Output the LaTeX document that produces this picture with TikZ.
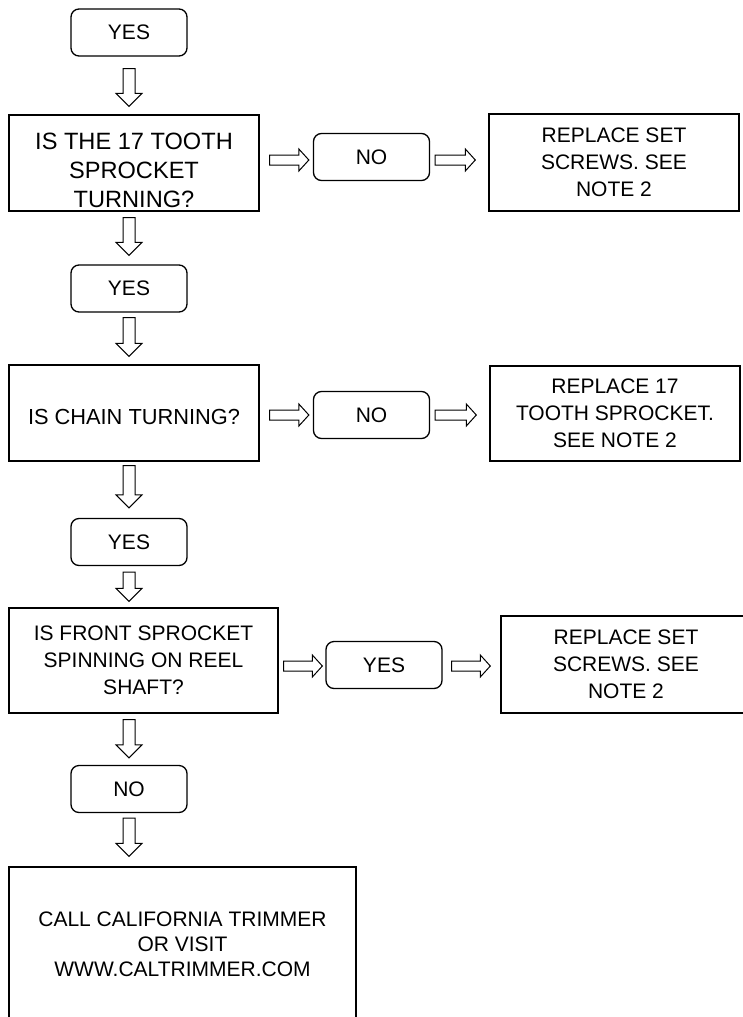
\documentclass[tikz,border=0pt]{standalone}
\usepackage{fontspec}
\setmainfont{Liberation Sans}
\usetikzlibrary{calc}
\begin{document}
\begin{tikzpicture}[x=1pt,y=-1pt,
  box/.style={draw, line width=1.4pt, align=center, inner sep=0pt,
    font=\fontsize{21}{27}\selectfont, minimum width=250pt, minimum height=96pt},
  pill/.style={draw, line width=1.3pt, rounded corners=8pt, minimum width=116pt,
    minimum height=47pt, inner sep=0pt, font=\fontsize{21}{25}\selectfont},
  darrow/.style={draw, line width=1pt, to path={let \p1=(\tikztostart), \p2=(\tikztotarget) in
    (\x1-6pt,\y1) -- (\x1+6pt,\y1) -- (\x1+6pt,\y2+13pt) -- (\x1+13pt,\y2+13pt) -- (\x1,\y2)
    -- (\x1-13pt,\y2+13pt) -- (\x1-6pt,\y2+13pt) -- cycle}},
  rarrow/.style={draw, line width=1pt, to path={let \p1=(\tikztostart), \p2=(\tikztotarget) in
    (\x1,\y1+5pt) -- (\x1,\y1-5pt) -- (\x2-10pt,\y1-5pt) -- (\x2-10pt,\y1-11pt) -- (\x2,\y1)
    -- (\x2-10pt,\y1+11pt) -- (\x2-10pt,\y1+5pt) -- cycle}}]
\useasboundingbox (0,0) rectangle (743,1017);
\clip (0,0) rectangle (743,1017);

\node[pill] (yes1) at (129,32.5) {YES};
\node[box, font=\fontsize{23.6}{29}\selectfont] (q1) at (134,163) {\rule{0pt}{31pt}IS THE 17 TOOTH\\SPROCKET\\TURNING?};
\node[pill] (no1) at (371.5,157) {NO};
\node[box, minimum height=97pt] (r1) at (614,162.5) {REPLACE SET\\SCREWS. SEE\\NOTE 2};

\node[pill] (yes2) at (129,288.5) {YES};
\node[box, text height=23pt, font=\fontsize{21.8}{27}\selectfont] (q2) at (134,413) {IS CHAIN TURNING?};
\node[pill] (no2) at (371.5,415) {NO};
\node[box, minimum height=95pt] (r2) at (615,413.5) {REPLACE 17\\TOOTH SPROCKET.\\SEE NOTE 2};

\node[pill] (yes3) at (129,542) {YES};
\node[box, minimum width=269pt, minimum height=105pt] (q3) at (143.5,660.5) {IS FRONT SPROCKET\\SPINNING ON REEL\\SHAFT?};
\node[pill] (yes4) at (384,665) {YES};
\node[box, minimum height=97pt] (r3) at (626,664.5) {REPLACE SET\\SCREWS. SEE\\NOTE 2};

\node[pill] (no3) at (129,789) {NO};
\node[box, minimum width=347pt, minimum height=154pt, font=\fontsize{21}{25}\selectfont] (q4) at (182.5,944) {CALL CALIFORNIA TRIMMER\\OR VISIT\\WWW.CALTRIMMER.COM};

\draw[darrow] ($(yes1.south)+(0,12)$) to ($(q1.north)+(0,-8)$);
\draw[darrow] ($(yes2 |- q1.south)+(0,6)$) to ($(yes2.north)+(0,-9)$);
\draw[darrow] ($(yes2.south)+(0,5)$) to ($(q2.north)+(0,-8)$);
\draw[darrow] ($(yes3 |- q2.south)+(0,4)$) to ($(yes3.north)+(0,-10)$);
\draw[darrow] ($(yes3.south)+(0,6)$) to ($(q3.north)+(0,-6)$);
\draw[darrow] ($(no3 |- q3.south)+(0,6)$) to ($(no3.north)+(0,-7)$);
\draw[darrow] ($(no3.south)+(0,5)$) to ($(q4.north)+(0,-10)$);

\draw[rarrow] ($(q1.east |- no1)+(10,3)$) to ($(no1.west)+(-4,0)$);
\draw[rarrow] ($(no1.east)+(5,3)$) to ($(r1.west)+(-13,0)$);
\draw[rarrow] ($(q2.east |- no2)+(10,0)$) to ($(no2.west)+(-4,0)$);
\draw[rarrow] ($(no2.east)+(5,0)$) to ($(r2.west)+(-13,0)$);
\draw[rarrow] ($(q3.east |- yes4)+(5,1)$) to ($(yes4.west)+(-3,0)$);
\draw[rarrow] ($(yes4.east)+(9,1)$) to ($(r3.west)+(-10,0)$);
\end{tikzpicture}
\end{document}
